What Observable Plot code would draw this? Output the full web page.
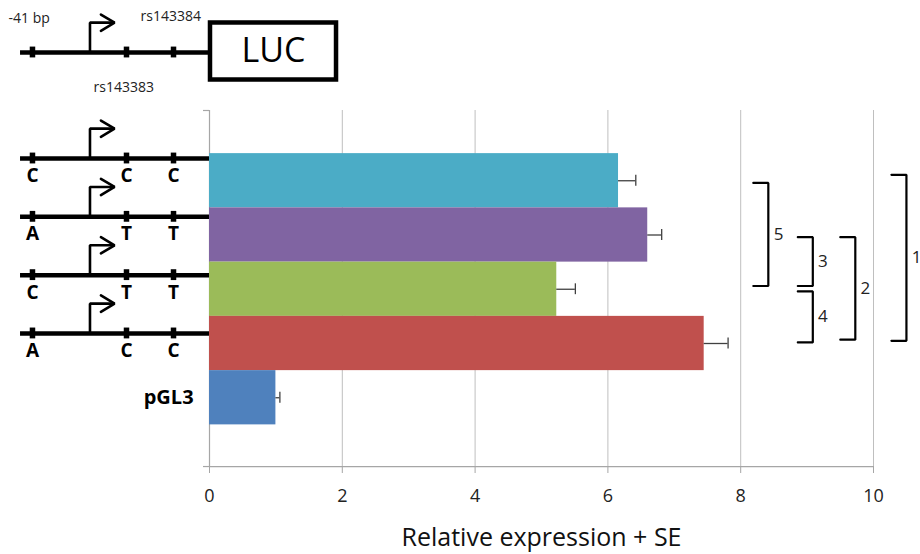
<!DOCTYPE html>
<html>
<head>
<meta charset="utf-8">
<script src="https://cdn.jsdelivr.net/npm/d3@7"></script>
<script src="https://cdn.jsdelivr.net/npm/@observablehq/plot@0.6"></script>
<style>
  html, body { margin: 0; padding: 0; background: #fff; }
  #chart { width: 920px; height: 554px; }
</style>
</head>
<body>
<div id="chart"></div>
<script>
// ---------- data ----------
const constructs = ["C-C-C", "A-T-T", "C-T-T", "A-C-C", "pGL3"];
const expression = [6.16, 6.60, 5.23, 7.45, 1.00];
const se = [0.26, 0.21, 0.28, 0.36, 0.06];
const barColors = ["#4BACC6", "#8064A2", "#9BBB59", "#C0504D", "#4F81BD"];
const alleles = [["C", "C", "C"], ["A", "T", "T"], ["C", "T", "T"], ["A", "C", "C"]];
const siteNames = ["-41 bp", "rs143383", "rs143384"];
const xTicks = [0, 2, 4, 6, 8, 10];
const compA = [0, 1, 2, 1, 0];
const compB = [2, 2, 3, 3, 3];
const compLabels = ["5", "3", "4", "2", "1"];
const axisTitle = "Relative expression + SE";
const reporter = "LUC";

// ---------- layout of the schematic annotations (not data) ----------
const L = {
  siteX: [-2.666, -1.250, -0.542],
  lineStart: -2.846,
  tssX: -1.80,
  arrowEnd: -1.43,
  headDx: 0.205, headDy: 0.15,
  arrowRise: 0.55,
  rowY0: -0.41, rowStep: 1.075,
  headerY: -2.364,
  box: {x1: 0.015, x2: 1.913, y1: -2.908, y2: -1.857},
  tickHalf: 0.1,
  alleleDy: 0.32,
  siteLabels: [{x: -3.027, y: -2.991}, {x: -1.747, y: -1.719}, {x: -1.039, y: -3.028}],
  pglX: -0.24,
  bracketCols: [8.19, 8.86, 8.86, 9.50, 10.27],
  bracketW: 0.226,
  bracketTop: [0.04, 0.04, 0.04, 0.04, -0.11],
  bracketBottom: [0.06, 0.06, 0.02, 0.07, 0.05],
  frameTop: -1.295, frameBottom: 5.268
};

const FONT = "'Open Sans', 'Noto Sans', sans-serif";

// ---------- derived tables ----------
const bars = constructs.map((c, i) => ({c, i, v: expression[i], se: se[i], color: barColors[i]}));
const rows = alleles.map((a, i) => ({i, y: L.rowY0 + L.rowStep * i, a}));
const schemY = [L.headerY, ...rows.map(r => r.y)];
const backbone = [{y: L.headerY, x2: L.box.x1}, ...rows.map(r => ({y: r.y, x2: 0}))];
const siteTicks = schemY.flatMap(y => L.siteX.map(x => ({x, y})));
const shafts = schemY.flatMap((y, k) => [
  {k, x: L.tssX, y},
  {k, x: L.tssX, y: y - L.arrowRise},
  {k, x: L.arrowEnd, y: y - L.arrowRise}
]);
const heads = schemY.flatMap((y, k) => [
  {k, x: L.arrowEnd - L.headDx, y: y - L.arrowRise - L.headDy},
  {k, x: L.arrowEnd, y: y - L.arrowRise},
  {k, x: L.arrowEnd - L.headDx, y: y - L.arrowRise + L.headDy}
]);
const alleleTexts = rows.flatMap(r => r.a.map((t, j) => ({t, x: L.siteX[j], y: r.y + L.alleleDy})));
const siteTexts = siteNames.map((t, j) => ({t, ...L.siteLabels[j]}));
const brackets = compLabels.map((label, j) => {
  const x1 = L.bracketCols[j], x2 = x1 + L.bracketW;
  const y1 = compA[j] + L.bracketTop[j], y2 = compB[j] - L.bracketBottom[j];
  return {label, x1, x2, y1, y2};
});
const bracketPts = brackets.flatMap(b => [
  {label: b.label, x: b.x1, y: b.y1},
  {label: b.label, x: b.x2, y: b.y1},
  {label: b.label, x: b.x2, y: b.y2},
  {label: b.label, x: b.x1, y: b.y2}
]);

const chart = Plot.plot({
  width: 920,
  height: 554,
  marginTop: 110,
  marginBottom: 88,
  marginLeft: 209,
  marginRight: 47,
  style: {fontFamily: FONT, background: "#fff"},
  x: {domain: [0, 10]},
  y: {domain: [0, 4], range: [180.25, 397.25], axis: null},
  color: {type: "identity"},
  marks: [
    // grid and axes
    Plot.gridX(xTicks, {stroke: "#bfbfbf", strokeOpacity: 1, strokeWidth: 1}),
    Plot.ruleX([0], {y1: () => L.frameTop, y2: () => L.frameBottom, stroke: "#a6a6a6", strokeWidth: 1.2}),
    Plot.ruleY([L.frameTop, L.frameBottom], {x1: () => -0.09, x2: () => 0, stroke: "#a6a6a6", strokeWidth: 1.2}),
    Plot.ruleY([L.frameBottom], {x1: () => 0, x2: () => 10, stroke: "#a6a6a6", strokeWidth: 1.2}),
    Plot.axisX(xTicks, {tickSize: 7, tickPadding: 16, stroke: "#a6a6a6", fill: "#222", fontSize: 18, fontFamily: FONT, label: null}),
    Plot.text([axisTitle], {frameAnchor: "bottom", dy: 79, fontSize: 25, fill: "#111", fontFamily: FONT}),

    // bars + error bars
    Plot.rect(bars, {x1: () => 0, x2: "v", y1: d => d.i - 0.5, y2: d => d.i + 0.5, fill: "color"}),
    Plot.ruleY(bars, {y: "i", x1: "v", x2: d => d.v + d.se, stroke: "#404040", strokeWidth: 1.3}),
    Plot.ruleX(bars, {x: d => d.v + d.se, y1: d => d.i - 0.1, y2: d => d.i + 0.1, stroke: "#404040", strokeWidth: 1.3}),

    // construct schematics
    Plot.ruleY(backbone, {y: "y", x1: () => L.lineStart, x2: "x2", stroke: "#000", strokeWidth: 4.5}),
    Plot.ruleX(siteTicks, {x: "x", y1: d => d.y - L.tickHalf, y2: d => d.y + L.tickHalf, stroke: "#000", strokeWidth: 5.5}),
    Plot.line(shafts, {x: "x", y: "y", z: "k", stroke: "#000", strokeWidth: 2.6, strokeLinejoin: "miter", strokeLinecap: "butt"}),
    Plot.line(heads, {x: "x", y: "y", z: "k", stroke: "#000", strokeWidth: 2.6, strokeLinejoin: "miter"}),
    Plot.rect([L.box], {x1: "x1", x2: "x2", y1: "y1", y2: "y2", fill: "#fff", stroke: "#000", strokeWidth: 4.5}),
    Plot.text([reporter], {x: () => (L.box.x1 + L.box.x2) / 2, y: () => (L.box.y1 + L.box.y2) / 2, fontSize: 34, fill: "#000", fontFamily: FONT}),
    Plot.text(siteTexts, {x: "x", y: "y", text: "t", textAnchor: "start", fontSize: 14, fill: "#222", fontFamily: FONT}),
    Plot.text(alleleTexts, {x: "x", y: "y", text: "t", fontSize: 19, fontWeight: "bold", fill: "#000", fontFamily: FONT}),
    Plot.text([bars[4]], {x: () => L.pglX, y: "i", text: "c", textAnchor: "end", fontSize: 20, fontWeight: "bold", fill: "#000", fontFamily: FONT}),

    // significance brackets
    Plot.line(bracketPts, {x: "x", y: "y", z: "label", stroke: "#000", strokeWidth: 2.2, strokeLinejoin: "miter"}),
    Plot.text(brackets, {x: d => d.x2 + 0.08, y: d => (d.y1 + d.y2) / 2, text: "label", textAnchor: "start", fontSize: 17, fill: "#222", fontFamily: FONT})
  ]
});

document.getElementById("chart").appendChild(chart);
</script>
</body>
</html>
